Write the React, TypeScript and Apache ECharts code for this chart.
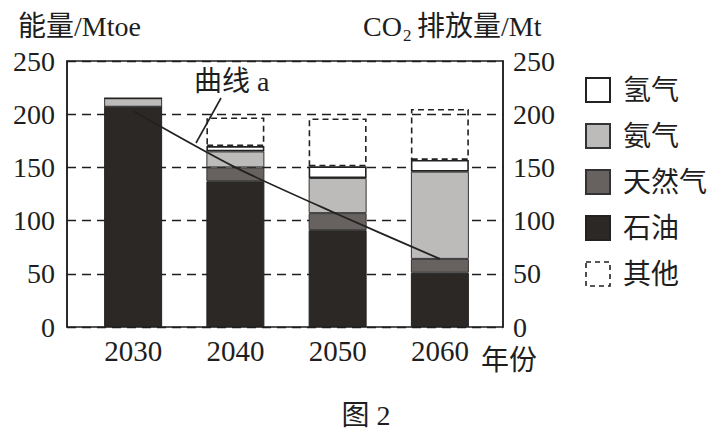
import React, { useEffect, useRef } from "react";
import * as echarts from "echarts";

const years = ["2030", "2040", "2050", "2060"];
const oil = [207, 137, 91, 51];
const gas = [0, 13, 16, 13];
const ammonia = [8, 15, 33, 82];
const hydrogen = [0, 5, 11, 11];
const other: (number | string)[] = ["-", 27, 45, 48];
const co2 = [203, 150, 106, 64];

const FONT = "'Liberation Serif', 'Noto Sans CJK SC', serif";
const INK = "#1e1e1e";

export default function App() {
  const ref = useRef<HTMLDivElement>(null);
  useEffect(() => {
    if (!ref.current) return;
    const chart = echarts.init(ref.current, undefined, { renderer: "svg" });
    const barBase = {
      type: "bar",
      stack: "e",
      barWidth: 58,
      xAxisIndex: 0,
      yAxisIndex: 0,
    };
    const axisFont = { fontFamily: FONT, fontSize: 28, color: INK };
    chart.setOption({
      animation: false,
      backgroundColor: "#ffffff",
      textStyle: { fontFamily: FONT, color: INK },
      grid: [
        {
          left: 82,
          right: 233,
          top: 61,
          bottom: 108,
        },
        {
          left: 67,
          right: 221,
          top: 61,
          bottom: 108,
          show: true,
          borderColor: INK,
          borderWidth: 1.5,
          backgroundColor: "transparent",
        },
      ],
      legend: {
        orient: "vertical",
        left: 580,
        top: 71,
        itemWidth: 24,
        itemHeight: 24,
        itemGap: 18,
        icon: "rect",
        data: [
          "氢气",
          "氨气",
          "天然气",
          "石油",
          {
            name: "其他",
            itemStyle: {
              color: "rgba(255,255,255,0)",
              borderColor: "#222",
              borderWidth: 1.6,
              borderType: [5, 4],
            },
          },
        ],
        textStyle: {
          fontFamily: FONT,
          fontSize: 28,
          color: INK,
          padding: [0, 0, 0, 8],
        },
      },
      xAxis: [
        {
          type: "category",
          gridIndex: 0,
          data: years,
          boundaryGap: true,
          axisLine: { show: false },
          axisTick: { show: false },
          splitLine: { show: false },
          axisLabel: { ...axisFont, fontSize: 29, margin: 9 },
        },
        {
          type: "value",
          gridIndex: 1,
          min: 0,
          max: 1,
          show: false,
        },
      ],
      yAxis: [
        {
          type: "value",
          gridIndex: 0,
          min: 0,
          max: 250,
          interval: 50,
          show: false,
        },
        {
          type: "value",
          gridIndex: 1,
          min: 0,
          max: 250,
          interval: 50,
          position: "left",
          axisLine: { show: true, lineStyle: { color: INK, width: 1.5 } },
          axisTick: { show: false },
          axisLabel: { ...axisFont, margin: 12 },
          splitLine: {
            show: true,
            lineStyle: { color: INK, width: 1.4, type: [9, 6] },
          },
        },
        {
          type: "value",
          gridIndex: 1,
          min: 0,
          max: 250,
          interval: 50,
          position: "right",
          axisLine: { show: true, lineStyle: { color: INK, width: 1.5 } },
          axisTick: { show: false },
          axisLabel: { ...axisFont, margin: 10 },
          splitLine: { show: false },
        },
      ],
      series: [
        {
          ...barBase,
          name: "石油",
          data: oil,
          itemStyle: { color: "#2c2825", borderColor: "#222", borderWidth: 1 },
        },
        {
          ...barBase,
          name: "天然气",
          data: gas,
          itemStyle: { color: "#67625f", borderColor: "#333", borderWidth: 1 },
        },
        {
          ...barBase,
          name: "氨气",
          data: ammonia,
          itemStyle: { color: "#bdbbba", borderColor: "#333", borderWidth: 1 },
        },
        {
          ...barBase,
          name: "氢气",
          data: hydrogen,
          itemStyle: { color: "#ffffff", borderColor: "#222", borderWidth: 1.6 },
        },
        {
          ...barBase,
          name: "其他",
          data: other,
          itemStyle: {
            color: "rgba(255,255,255,0)",
            borderColor: "#222",
            borderWidth: 1.6,
            borderType: [6, 4],
          },
        },
        {
          type: "line",
          name: "曲线a",
          xAxisIndex: 0,
          yAxisIndex: 0,
          data: co2,
          smooth: 0.25,
          symbol: "none",
          z: 5,
          lineStyle: { color: "#222", width: 1.8 },
        },
      ],
      graphic: [
        {
          type: "text",
          x: 18,
          y: 26,
          style: {
            text: "能量/Mtoe",
            font: `28px ${FONT}`,
            fill: INK,
            verticalAlign: "middle",
          },
        },
        {
          type: "text",
          x: 363,
          y: 26,
          style: { text: "CO", font: `28px ${FONT}`, fill: INK, verticalAlign: "middle" },
        },
        {
          type: "text",
          x: 403,
          y: 35,
          style: { text: "2", font: `17px ${FONT}`, fill: INK, verticalAlign: "middle" },
        },
        {
          type: "text",
          x: 417,
          y: 26,
          style: {
            text: "排放量/Mt",
            font: `28px ${FONT}`,
            fill: INK,
            verticalAlign: "middle",
          },
        },
        {
          type: "text",
          x: 194,
          y: 81,
          style: {
            text: "曲线 a",
            font: `28px ${FONT}`,
            fill: INK,
            verticalAlign: "middle",
          },
        },
        {
          type: "line",
          shape: { x1: 221, y1: 98, x2: 196, y2: 143 },
          style: { stroke: "#222", lineWidth: 1.6 },
          z: 10,
        },
        {
          type: "text",
          x: 481,
          y: 360,
          style: {
            text: "年份",
            font: `28px ${FONT}`,
            fill: INK,
            verticalAlign: "middle",
          },
        },
        {
          type: "text",
          x: 366,
          y: 415,
          style: {
            text: "图 2",
            font: `28px ${FONT}`,
            fill: INK,
            align: "center",
            verticalAlign: "middle",
          },
        },
      ],
    });
    return () => chart.dispose();
  }, []);
  return (
    <div
      ref={ref}
      style={{ position: "fixed", left: 0, top: 0, width: 724, height: 435 }}
    />
  );
}
